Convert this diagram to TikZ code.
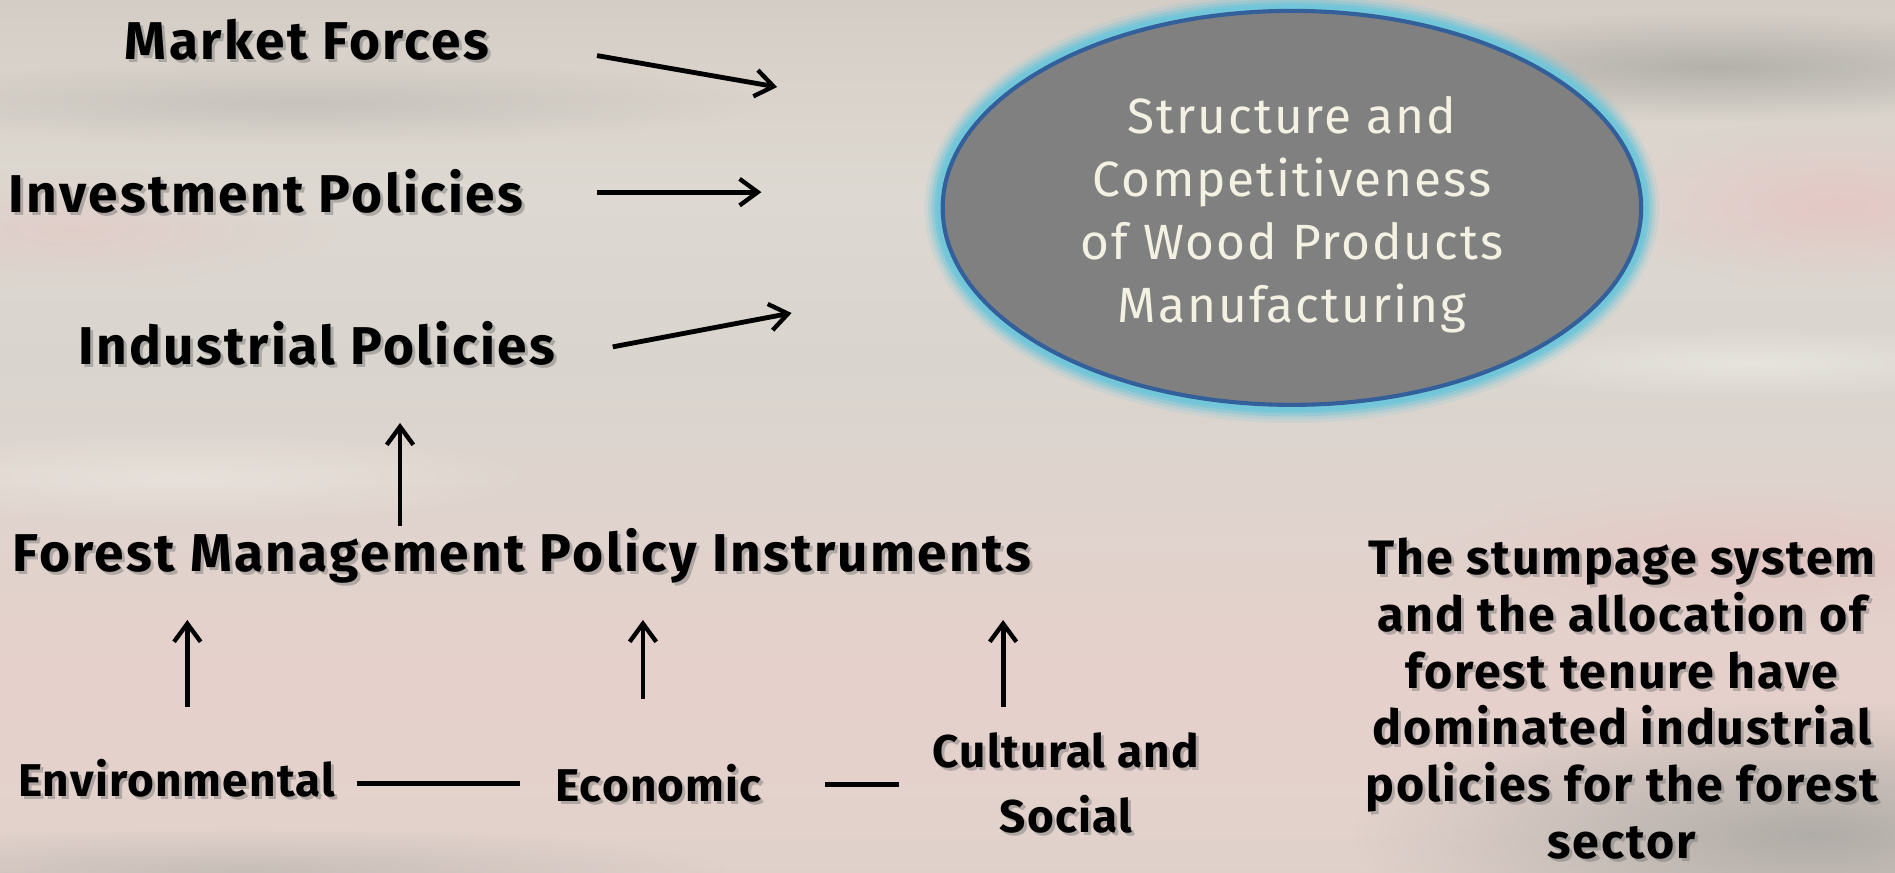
\documentclass[tikz,border=0pt]{standalone}
\usepackage{fontspec}
\setmainfont{Fira Sans}
\usetikzlibrary{arrows.meta,shapes.geometric,fadings}
\tikzfading[name=softspot, inner color=transparent!0, outer color=transparent!100]
\definecolor{bgA}{HTML}{C8C2BC}
\definecolor{bgB}{HTML}{D6C7BE}
\definecolor{bgC}{HTML}{CBC3C0}
\definecolor{bgD}{HTML}{D8D1C9}
\definecolor{bgE}{HTML}{DDD8D1}
\definecolor{bgF}{HTML}{D9D5CE}
\definecolor{bgG}{HTML}{E0D3CD}
\definecolor{bgH}{HTML}{E6D0CB}
\definecolor{bgI}{HTML}{E3D2CC}
\definecolor{bgJ}{HTML}{D6CCC5}
\definecolor{bgK}{HTML}{C4BEB9}
\definecolor{bgL}{HTML}{BDB7B2}
\definecolor{streakGray}{HTML}{A4A39E}
\definecolor{streakPink}{HTML}{E6C4C2}
\definecolor{streakLight}{HTML}{EEEAE4}
\definecolor{coreFill}{HTML}{808080}
\definecolor{coreLine}{HTML}{33609B}
\definecolor{glowC}{HTML}{72C6D9}
\definecolor{coreText}{HTML}{F3F1E2}
\pgfdeclareverticalshading{sky}{100bp}{%
 color(0bp)=(bgL); color(8bp)=(bgK); color(17bp)=(bgJ); color(28bp)=(bgI);
 color(36bp)=(bgH); color(45bp)=(bgG); color(54bp)=(bgF); color(64bp)=(bgE);
 color(72bp)=(bgD); color(82bp)=(bgC); color(92bp)=(bgB); color(100bp)=(bgA)}
\newcommand\shadowlabel[4]{%
  \node[#3, text=black!55, opacity=0.45] at ([shift={(2.5,2.5)}]#2) {#4};
  \node[#3] (#1) at (#2) {#4};}
\tikzset{
  x=0.5pt, y=-0.5pt,
  lbl/.style={font=\bfseries\fontsize{22}{26}\selectfont\addfontfeatures{LetterSpace=4.5}, inner sep=0pt},
  small/.style={font=\bfseries\fontsize{19}{27}\selectfont\addfontfeatures{LetterSpace=2.5}, inner sep=0pt, align=center},
  note/.style={font=\bfseries\fontsize{20}{23.5}\selectfont\addfontfeatures{LetterSpace=4}, inner sep=0pt, align=center},
  arr/.style={-{Straight Barb[length=7.5pt,width=11pt,line width=1.8pt]}, line width=2pt, black},
  link/.style={line width=2pt, black},
  streak/.style={fill=#1, path fading=softspot},
}
\begin{document}
\begin{tikzpicture}
\shade[shading=sky] (0,0) rectangle (1568,722);
\useasboundingbox (0,0) rectangle (1568,722);
% soft streaks of the sky
\begin{scope}
\clip (0,0) rectangle (1568,722);
\fill[streak=streakGray, opacity=0.7] (1420,55) ellipse [x radius=330, y radius=45];
\fill[streak=streakGray, opacity=0.35] (250,85) ellipse [x radius=380, y radius=35];
\fill[streak=streakPink, opacity=0.8] (1520,170) ellipse [x radius=220, y radius=70];
\fill[streak=streakPink, opacity=0.5] (60,190) ellipse [x radius=220, y radius=50];
\fill[streak=streakLight, opacity=0.7] (1450,300) ellipse [x radius=260, y radius=30];
\fill[streak=streakPink, opacity=0.7] (1450,460) ellipse [x radius=280, y radius=60];
\fill[streak=streakLight, opacity=0.6] (150,395) ellipse [x radius=300, y radius=40];
\fill[streak=streakGray, opacity=0.8] (1500,690) ellipse [x radius=380, y radius=110];
\fill[streak=streakGray, opacity=0.4] (200,720) ellipse [x radius=400, y radius=35];
\end{scope}
% glow round ellipse
\foreach \w/\o in {30/0.15,24/0.25,19/0.4,14/0.7,10/1}
  \draw[glowC, line width=\w pt*0.5, opacity=\o] (1069,172) ellipse [x radius=289, y radius=163];
\node[draw=coreLine, line width=1.7pt, fill=coreFill, ellipse, inner sep=0pt,
      minimum width=289pt, minimum height=163pt] (core) at (1069,172) {};
\node[font=\fontsize{20.5}{26}\selectfont\addfontfeatures{LetterSpace=4}, text=coreText,
      align=center, inner sep=0pt] (coretext) at (1069,177.5)
      {Structure and\\Competitiveness\\of Wood Products\\Manufacturing};
% left labels
\shadowlabel{mf}{254,33}{lbl}{Market Forces}
\shadowlabel{ip}{220,158}{lbl}{Investment Policies}
\shadowlabel{indp}{262,284}{lbl}{Industrial Policies}
\shadowlabel{fmpi}{432,460}{lbl}{Forest Management Policy Instruments}
\shadowlabel{env}{146,644}{small}{Environmental}
\shadowlabel{eco}{545,648}{small}{Economic}
\shadowlabel{cult}{882,648}{small}{Cultural and\\Social}
\shadowlabel{note}{1342,578}{note}{The stumpage system\\and the allocation of\\forest tenure have\\dominated industrial\\policies for the forest\\sector}
% connector ends
\coordinate (mfS) at (494,46);  \coordinate (mfE) at (643,72);
\coordinate (ipS) at (494,159); \coordinate (ipE) at (630,159);
\coordinate (indS) at (507,287); \coordinate (indE) at (655,259);
\coordinate (upS) at (331,435); \coordinate (upE) at (331,350);
\coordinate (a1S) at (155,585); \coordinate (a1E) at (155,513);
\coordinate (a2S) at (532,578); \coordinate (a2E) at (532,513);
\coordinate (a3S) at (830,585); \coordinate (a3E) at (830,513);
\coordinate (l1S) at (295,648); \coordinate (l1E) at (430,648);
\coordinate (l2S) at (683,649); \coordinate (l2E) at (744,649);
\draw[arr] (mfS) -- (mfE);
\draw[arr] (ipS) -- (ipE);
\draw[arr] (indS) -- (indE);
\draw[arr] (upS) -- (upE);
\draw[arr] (a1S) -- (a1E);
\draw[arr] (a2S) -- (a2E);
\draw[arr] (a3S) -- (a3E);
\draw[link] (l1S) -- (l1E);
\draw[link] (l2S) -- (l2E);
\end{tikzpicture}
\end{document}
